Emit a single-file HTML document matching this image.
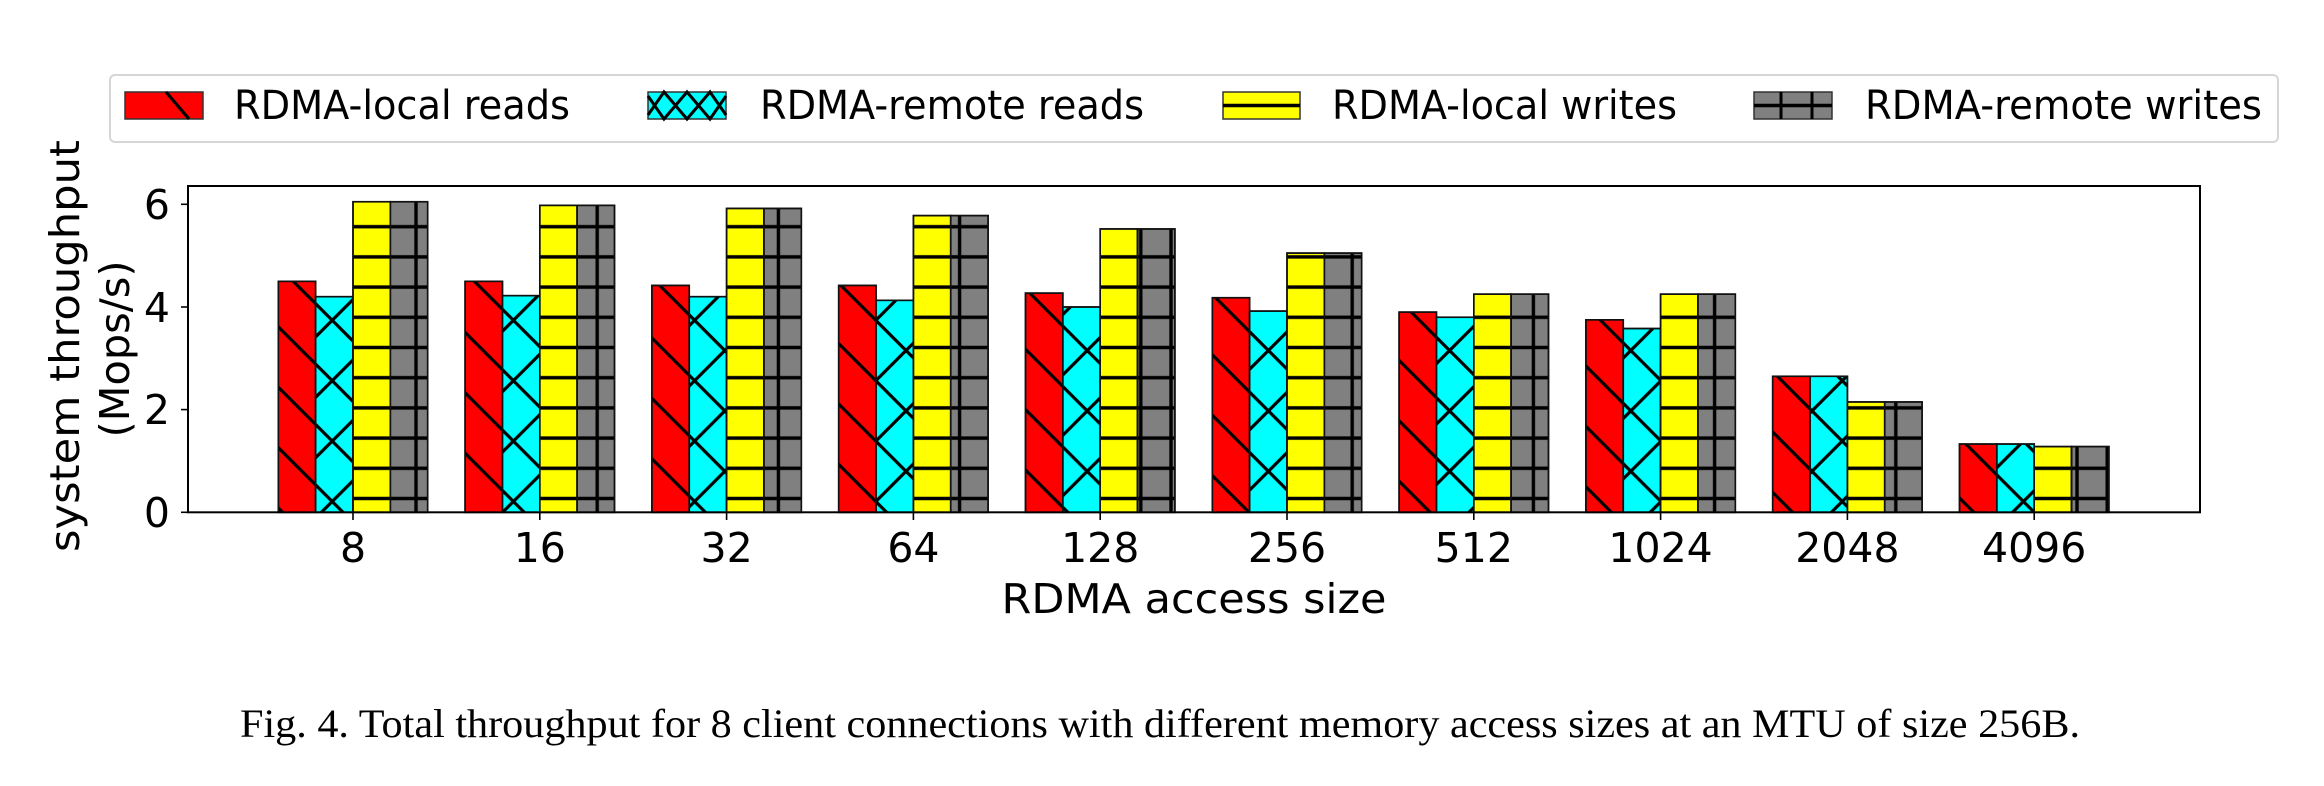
<!DOCTYPE html>
<html><head><meta charset="utf-8"><style>html,body{margin:0;padding:0;background:#fff}svg{display:block}</style></head>
<body>
<svg width="2324" height="786" viewBox="0 0 2324 786" xmlns="http://www.w3.org/2000/svg">
<defs>
<pattern id="bs" patternUnits="userSpaceOnUse" x="0" y="48.5" width="60.4" height="60.4">
<line x1="-60.4" y1="0" x2="0" y2="60.4" stroke="#000" stroke-width="3.2"/>
<line x1="0" y1="0" x2="60.4" y2="60.4" stroke="#000" stroke-width="3.2"/>
<line x1="0" y1="-60.4" x2="60.4" y2="0" stroke="#000" stroke-width="3.2"/>
<line x1="60.4" y1="0" x2="120.8" y2="60.4" stroke="#000" stroke-width="3.2"/>
<line x1="0" y1="60.4" x2="60.4" y2="120.8" stroke="#000" stroke-width="3.2"/>
</pattern>
<pattern id="xx" patternUnits="userSpaceOnUse" x="0" y="48.5" width="60.4" height="60.4">
<line x1="-60.4" y1="0" x2="0" y2="60.4" stroke="#000" stroke-width="3.2"/>
<line x1="0" y1="0" x2="60.4" y2="60.4" stroke="#000" stroke-width="3.2"/>
<line x1="0" y1="-60.4" x2="60.4" y2="0" stroke="#000" stroke-width="3.2"/>
<line x1="60.4" y1="0" x2="120.8" y2="60.4" stroke="#000" stroke-width="3.2"/>
<line x1="0" y1="60.4" x2="60.4" y2="120.8" stroke="#000" stroke-width="3.2"/>
<line x1="0" y1="60.4" x2="60.4" y2="0" stroke="#000" stroke-width="3.2"/>
<line x1="-60.4" y1="60.4" x2="0" y2="0" stroke="#000" stroke-width="3.2"/>
<line x1="60.4" y1="60.4" x2="120.8" y2="0" stroke="#000" stroke-width="3.2"/>
<line x1="0" y1="0" x2="60.4" y2="-60.4" stroke="#000" stroke-width="3.2"/>
<line x1="0" y1="120.8" x2="60.4" y2="60.4" stroke="#000" stroke-width="3.2"/>
</pattern>
<pattern id="hh" patternUnits="userSpaceOnUse" x="0" y="498.5" width="60" height="30.2">
<line x1="0" y1="0" x2="60" y2="0" stroke="#000" stroke-width="3.4"/>
<line x1="0" y1="30.2" x2="60" y2="30.2" stroke="#000" stroke-width="3.4"/>
</pattern>
<pattern id="pp" patternUnits="userSpaceOnUse" x="416" y="498.5" width="30.2" height="30.2">
<line x1="0" y1="0" x2="30.2" y2="0" stroke="#000" stroke-width="3.4"/>
<line x1="0" y1="30.2" x2="30.2" y2="30.2" stroke="#000" stroke-width="3.4"/>
<line x1="0" y1="0" x2="0" y2="30.2" stroke="#000" stroke-width="3.4"/>
<line x1="30.2" y1="0" x2="30.2" y2="30.2" stroke="#000" stroke-width="3.4"/>
</pattern>
</defs>

<!-- legend -->
<rect x="110" y="75" width="2168" height="67" rx="5" fill="#fff" stroke="#d6d6d6" stroke-width="2"/>
<g font-family="DejaVu Sans, Liberation Sans, sans-serif" font-size="40" fill="#000">
<rect x="125" y="92" width="78" height="27" fill="#ff0000" stroke="#333" stroke-width="1.5"/>
<line x1="166" y1="92" x2="189" y2="119" stroke="#000" stroke-width="3.2"/>
<text x="234" y="119" textLength="336" lengthAdjust="spacingAndGlyphs">RDMA-local reads</text>
<rect x="648" y="92" width="78" height="27" fill="#00ffff" stroke="#333" stroke-width="1.5"/>
<polyline points="648,96 664,119 687,92 710,119 726,96" fill="none" stroke="#000" stroke-width="3"/>
<polyline points="648,115 664,92 687,119 710,92 726,115" fill="none" stroke="#000" stroke-width="3"/>
<text x="760" y="119" textLength="384" lengthAdjust="spacingAndGlyphs">RDMA-remote reads</text>
<rect x="1223" y="92" width="77" height="27" fill="#ffff00" stroke="#333" stroke-width="1.5"/>
<line x1="1223" y1="105.5" x2="1300" y2="105.5" stroke="#000" stroke-width="3.4"/>
<text x="1332" y="119" textLength="345" lengthAdjust="spacingAndGlyphs">RDMA-local writes</text>
<rect x="1754" y="92" width="78" height="27" fill="#808080" stroke="#333" stroke-width="1.5"/>
<line x1="1754" y1="105.5" x2="1832" y2="105.5" stroke="#000" stroke-width="3.4"/>
<line x1="1781" y1="92" x2="1781" y2="119" stroke="#000" stroke-width="3"/>
<line x1="1812" y1="92" x2="1812" y2="119" stroke="#000" stroke-width="3"/>
<text x="1865" y="119" textLength="397" lengthAdjust="spacingAndGlyphs">RDMA-remote writes</text>
</g>

<!-- bars -->
<g id="bars" stroke="#111" stroke-width="1.6"></g>

<!-- axes -->
<rect x="188" y="186" width="2012" height="326.3" fill="none" stroke="#000" stroke-width="2"/>
<g stroke="#000" stroke-width="1.6">
<line x1="181" y1="512.3" x2="188" y2="512.3"/>
<line x1="181" y1="409.6" x2="188" y2="409.6"/>
<line x1="181" y1="307" x2="188" y2="307"/>
<line x1="181" y1="204.3" x2="188" y2="204.3"/>
</g>
<g id="xt" stroke="#000" stroke-width="1.6"></g>
<g font-family="DejaVu Sans, Liberation Sans, sans-serif" font-size="41" fill="#000">
<text x="170" y="527" text-anchor="end">0</text>
<text x="170" y="424" text-anchor="end">2</text>
<text x="170" y="322" text-anchor="end">4</text>
<text x="170" y="219" text-anchor="end">6</text>
<g id="xl" text-anchor="middle"></g>
<text x="1194" y="613" text-anchor="middle" textLength="385" lengthAdjust="spacingAndGlyphs">RDMA access size</text>
<text transform="translate(79,346) rotate(-90)" text-anchor="middle" textLength="412" lengthAdjust="spacingAndGlyphs">system throughput</text>
<text transform="translate(129,349) rotate(-90)" text-anchor="middle" textLength="177" lengthAdjust="spacingAndGlyphs">(Mops/s)</text>
</g>
<text x="240" y="737" font-family="Liberation Serif, serif" font-size="40" fill="#000" textLength="1840" lengthAdjust="spacingAndGlyphs">Fig. 4.  Total throughput for 8 client connections with different memory access sizes at an MTU of size 256B.</text>

<script>
(function(){
var NS="http://www.w3.org/2000/svg";
var data=[[4.5,4.2,6.05,6.05],[4.5,4.22,5.98,5.98],[4.42,4.2,5.92,5.92],[4.42,4.13,5.78,5.78],[4.27,4.0,5.52,5.52],[4.18,3.92,5.05,5.05],[3.9,3.8,4.25,4.25],[3.75,3.58,4.25,4.25],[2.65,2.65,2.15,2.15],[1.33,1.33,1.28,1.28]];
var labels=["8","16","32","64","128","256","512","1024","2048","4096"];
var cols=["#ff0000","#00ffff","#ffff00","#808080"],pats=["bs","xx","hh","pp"];
var g=document.getElementById("bars"),xt=document.getElementById("xt"),xl=document.getElementById("xl");
var w=37.35,y0=512.3,s=51.33;
for(var i=0;i<10;i++){var t=353+186.8*i;
 for(var j=0;j<4;j++){var x=t-2*w+j*w,h=data[i][j]*s;
  var r=document.createElementNS(NS,"rect");r.setAttribute("x",x);r.setAttribute("y",y0-h);r.setAttribute("width",w);r.setAttribute("height",h);r.setAttribute("fill",cols[j]);g.appendChild(r);
  var r2=document.createElementNS(NS,"rect");r2.setAttribute("x",x);r2.setAttribute("y",y0-h);r2.setAttribute("width",w);r2.setAttribute("height",h);r2.setAttribute("fill","url(#"+pats[j]+")");r2.setAttribute("stroke","#111");g.appendChild(r2);}
 var l=document.createElementNS(NS,"line");l.setAttribute("x1",t);l.setAttribute("x2",t);l.setAttribute("y1",512);l.setAttribute("y2",520);xt.appendChild(l);
 var tx=document.createElementNS(NS,"text");tx.setAttribute("x",t);tx.setAttribute("y",562);tx.textContent=labels[i];xl.appendChild(tx);}
})();
</script>
</svg>
</body></html>
